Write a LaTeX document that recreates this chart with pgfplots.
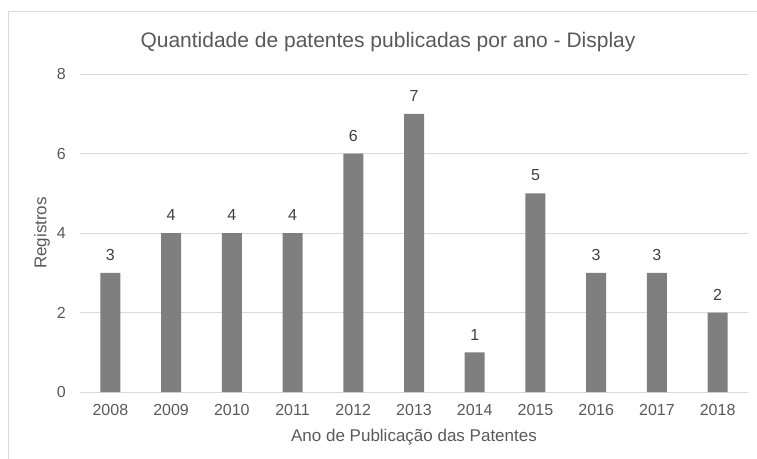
\documentclass[border=0pt]{standalone}
\usepackage{pgfplots}
\pgfplotsset{compat=1.18}
\usepackage{fontspec}
\setmainfont{Liberation Sans}
\definecolor{bargray}{HTML}{7F7F7F}
\definecolor{gridgray}{HTML}{D9D9D9}
\definecolor{txtgray}{HTML}{595959}
\definecolor{lblgray}{HTML}{404040}
\begin{document}
\begin{tikzpicture}
  % page = 757 x 458, 1pt per pixel of the reference
  \useasboundingbox (0pt,0pt) rectangle (757pt,458pt);
  \draw[gridgray, line width=1pt] (8pt,-10pt) rectangle (775pt,446pt);
  \begin{axis}[
      at={(80pt,66pt)}, anchor=south west,
      scale only axis,
      width=668pt, height=318pt,
      ybar, bar width=20pt,
      xmin=-0.5, xmax=10.5,
      ymin=0, ymax=8,
      xtick={0,...,10},
      xticklabels={2008,2009,2010,2011,2012,2013,2014,2015,2016,2017,2018},
      ytick={0,2,4,6,8},
      major tick length=0pt,
      axis x line*=bottom,
      axis y line*=left,
      x axis line style={gridgray, line width=1pt, -},
      y axis line style={draw=none},
      ymajorgrids,
      grid style={gridgray, line width=1pt},
      /pgf/number format/assume math mode=true,
      tick label style={font=\fontsize{16}{19}\selectfont, text=txtgray},
      xticklabel style={inner sep=0pt, yshift=-12pt},
      yticklabel style={inner sep=0pt, xshift=-14pt},
      xlabel={Ano de Publicação das Patentes},
      ylabel={Registros},
      label style={font=\fontsize{17}{20}\selectfont, text=txtgray},
      xlabel style={at={(axis description cs:0.5,-0.1415)}, anchor=center},
      ylabel style={at={(axis description cs:-0.0569,0.5)}, anchor=center},
      nodes near coords,
      every node near coord/.append style={font=\fontsize{16}{19}\selectfont, text=lblgray, inner sep=0pt, yshift=12pt},
    ]
    \addplot[fill=bargray, draw=none] coordinates {
      (0,3) (1,4) (2,4) (3,4) (4,6) (5,7) (6,1) (7,5) (8,3) (9,3) (10,2)
    };
  \end{axis}
  \node[font=\fontsize{21}{25}\selectfont, text=txtgray] at (388pt,416pt) {Quantidade de patentes publicadas por ano - Display};
\end{tikzpicture}
\end{document}
